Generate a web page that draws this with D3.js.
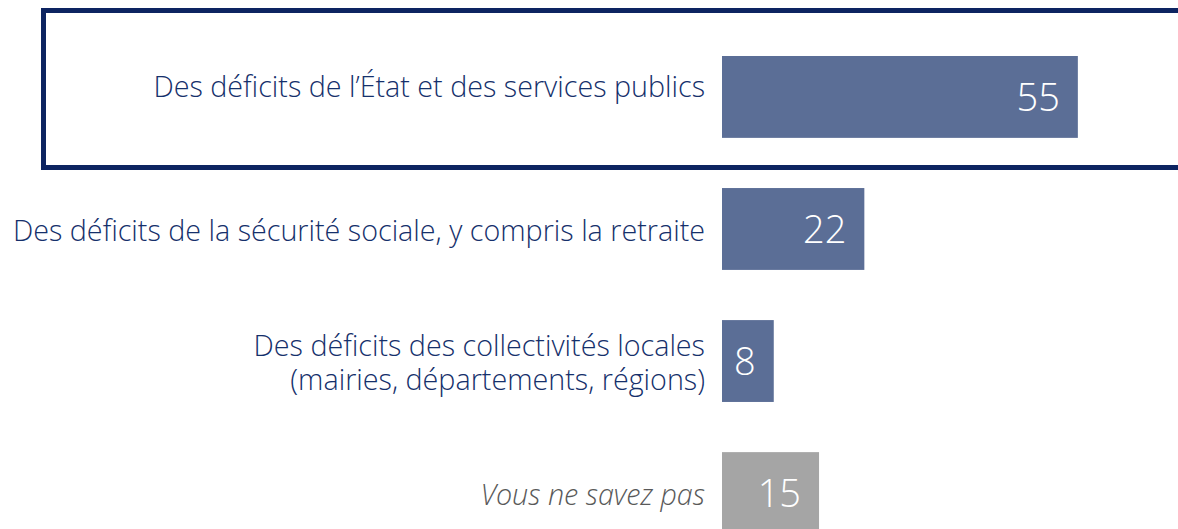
<!DOCTYPE html>
<html>
<head>
<meta charset="utf-8">
<script src="https://cdn.jsdelivr.net/npm/d3@7"></script>
<style>
  body { margin: 0; background: #fff; }
  svg { display: block; }
</style>
</head>
<body>
<div class="chart"></div>
<script>
// donnees
var categories = [
    ["Des déficits de l’État et des services publics"],
    ["Des déficits de la sécurité sociale, y compris la retraite"],
    ["Des déficits des collectivités locales", "(mairies, départements, régions)"],
    ["Vous ne savez pas"]
];
var values = [55, 22, 8, 15];
var isNsp = [false, false, false, true]; // "ne sait pas" en gris

var width = 1178;
var height = 529;

var svg = d3.select('.chart')
    .append('svg')
    .attr('width', width)
    .attr('height', height);

var rows = d3.range(values.length);

var yscale = d3.scaleBand()
    .domain(rows)
    .range([56, 534])
    .paddingInner(0.38)
    .paddingOuter(0);

var xscale = d3.scaleLinear()
    .domain([0, 100])
    .range([722, 722 + 647]);

// cadre autour de la premiere ligne
svg.append('rect')
    .attr('x', 43.5)
    .attr('y', 10.5)
    .attr('width', 1200)
    .attr('height', 157)
    .attr('fill', 'none')
    .attr('stroke', '#0d2461')
    .attr('stroke-width', 5);

// barres
svg.selectAll('rect.bar')
    .data(rows)
    .enter()
    .append('rect')
    .attr('class', 'bar')
    .attr('x', xscale(0))
    .attr('y', d => yscale(d))
    .attr('width', d => xscale(values[d]) - xscale(0))
    .attr('height', yscale.bandwidth())
    .attr('fill', d => isNsp[d] ? '#a5a5a5' : '#5b6e96');

// valeurs
svg.selectAll('text.val')
    .data(rows)
    .enter()
    .append('text')
    .attr('class', 'val')
    .attr('x', d => xscale(values[d]) - 18)
    .attr('y', d => yscale(d) + yscale.bandwidth() / 2 + 14)
    .attr('text-anchor', 'end')
    .attr('fill', '#fff')
    .style('font-family', '"Open Sans", sans-serif')
    .style('font-weight', 300)
    .style('font-size', '38px')
    .text(d => values[d]);

// libelles
var lineH = 34;
var lab = svg.selectAll('text.lab')
    .data(rows)
    .enter()
    .append('text')
    .attr('class', 'lab')
    .attr('text-anchor', 'end')
    .attr('fill', d => isNsp[d] ? '#595959' : '#15306b')
    .style('font-family', '"Open Sans", sans-serif')
    .style('font-weight', 300)
    .style('font-style', d => isNsp[d] ? 'italic' : 'normal')
    .style('font-size', '28.7px')
    .attr('y', d => {
        var n = categories[d].length;
        var off = d === 0 ? -12 : 0; // ligne encadree un peu plus haut
        return yscale(d) + yscale.bandwidth() / 2 + 12 - (n - 1) * lineH / 2 + off;
    });

lab.selectAll('tspan')
    .data(d => categories[d])
    .enter()
    .append('tspan')
    .attr('x', 705)
    .attr('dy', (t, i) => i === 0 ? 0 : lineH)
    .text(t => t);
</script>
</body>
</html>
